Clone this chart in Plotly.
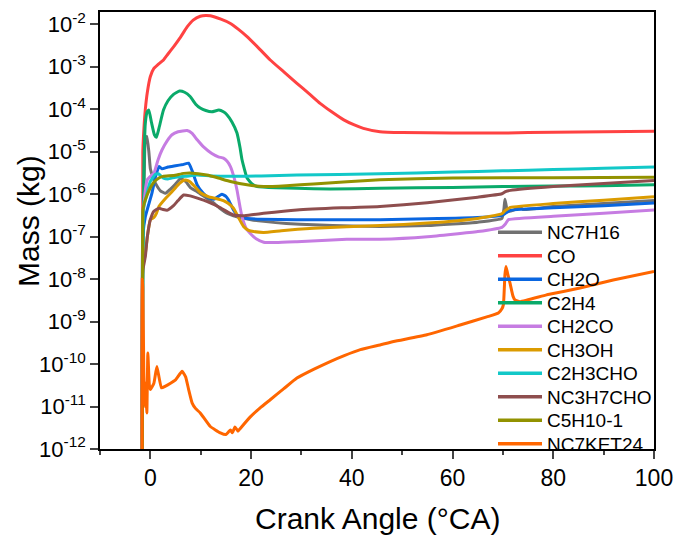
import numpy as np
import plotly.graph_objects as go

# ---- data (x in °CA, y stored as log10 of mass in kg) ----
names = ["NC7H16", "CO", "CH2O", "C2H4", "CH2CO", "CH3OH",
         "C2H3CHO", "NC3H7CHO", "C5H10-1", "NC7KET24"]
colors = ["#717171", "#FF4242", "#0A66E0", "#0AAA6A", "#C67CE2", "#DB9B00",
          "#12C8C8", "#8E4E4E", "#929200", "#FF6600"]

nc7h16_x = [-1.6, -1.5, -1.2, -1.0, -0.7, -0.3, 0.0, 0.5, 1.0, 2.0, 3.0, 4.0, 5.0, 6.0, 7.0, 8.0, 9.3, 11.0, 12.6, 14.0, 15.2, 16.5, 17.9, 20, 22.5, 27, 32.4, 40, 45.6, 55, 65, 69.8, 70.2, 70.4, 70.8, 71.2, 72, 73, 73.4, 74, 80, 90, 100]
nc7h16_lg = [-13, -7.0, -5.5, -4.68, -4.64, -5.0, -5.40, -5.6, -5.74, -5.92, -5.98, -5.88, -5.76, -5.63, -5.70, -5.85, -5.94, -6.08, -6.21, -6.35, -6.45, -6.51, -6.55, -6.60, -6.64, -6.69, -6.72, -6.75, -6.76, -6.74, -6.66, -6.57, -6.35, -6.12, -6.35, -6.40, -6.38, -6.32, -6.30, -6.36, -6.29, -6.22, -6.15]

co_x = [-1.6, -1.5, -1.2, -1.0, -0.6, 0.0, 0.7, 1.5, 2.6, 3.5, 4.6, 6.0, 7.3, 8.5, 9.9, 11.0, 11.9, 14.0, 15.9, 17.5, 19.2, 21.5, 23.8, 26.5, 29.1, 31.5, 33.7, 36.0, 38.4, 40.5, 42.3, 45.6, 50, 60, 70, 80, 90, 100]
co_lg = [-13, -5.0, -4.3, -4.0, -3.6, -3.23, -3.04, -2.95, -2.84, -2.70, -2.53, -2.30, -2.06, -1.90, -1.81, -1.79, -1.80, -1.88, -1.98, -2.12, -2.29, -2.56, -2.84, -3.12, -3.39, -3.63, -3.86, -4.06, -4.25, -4.37, -4.45, -4.53, -4.55, -4.56, -4.56, -4.54, -4.53, -4.52]

ch2o_x = [-1.6, -1.5, -1.0, 0.3, 1.0, 1.7, 2.3, 3.5, 5.0, 6.5, 7.6, 8.3, 9.3, 10.5, 11.5, 12.6, 13.5, 14.2, 15.0, 15.5, 16.4, 17.2, 18.5, 19.2, 22, 29.1, 45.6, 55, 65, 69.8, 70.5, 71.5, 80, 90, 100]
ch2o_lg = [-13, -7.0, -6.53, -5.98, -5.6, -5.35, -5.40, -5.36, -5.33, -5.30, -5.27, -5.45, -5.78, -5.98, -6.08, -6.12, -6.05, -6.00, -6.05, -6.13, -6.35, -6.49, -6.56, -6.57, -6.59, -6.60, -6.60, -6.58, -6.55, -6.50, -6.45, -6.38, -6.32, -6.27, -6.21]

c2h4_x = [-1.6, -1.5, -1.3, -1.0, -0.6, -0.3, 0.2, 0.8, 1.2, 1.7, 2.6, 3.5, 4.6, 5.8, 6.8, 7.9, 9.0, 9.9, 11.0, 12.2, 13.6, 14.5, 15.2, 16.2, 17.2, 17.8, 18.2, 19.2, 20.2, 21.2, 25, 29.1, 35.7, 45.6, 60, 70, 80, 90, 100]
c2h4_lg = [-13, -7.9, -5.5, -4.33, -4.05, -4.02, -4.3, -4.6, -4.66, -4.45, -4.02, -3.80, -3.65, -3.57, -3.60, -3.70, -3.88, -3.97, -4.03, -4.06, -4.02, -4.06, -4.13, -4.30, -4.56, -4.90, -5.19, -5.62, -5.76, -5.82, -5.85, -5.86, -5.88, -5.86, -5.84, -5.82, -5.81, -5.80, -5.78]

ch2co_x = [-1.6, -1.5, -1.3, -1.0, -0.6, 0.0, 0.7, 1.5, 2.3, 3.3, 4.3, 5.5, 7.3, 8.3, 9.3, 10.5, 12.2, 13.5, 14.5, 15.2, 15.9, 16.6, 17.2, 17.8, 18.2, 19.0, 19.8, 21, 22.5, 25, 29.1, 39, 45.6, 55, 65, 69.8, 70.5, 71.1, 80, 90, 100]
ch2co_lg = [-13, -6.5, -6.29, -5.9, -5.66, -5.58, -5.51, -5.2, -4.96, -4.75, -4.60, -4.53, -4.50, -4.57, -4.72, -4.88, -5.04, -5.12, -5.15, -5.22, -5.35, -5.6, -5.90, -6.3, -6.53, -6.8, -6.92, -7.05, -7.13, -7.14, -7.12, -7.06, -7.06, -7.00, -6.88, -6.78, -6.70, -6.60, -6.52, -6.45, -6.37]

ch3oh_x = [-1.6, -1.5, -1.0, -0.6, 0.0, 0.7, 1.2, 1.7, 3.0, 4.0, 5.5, 6.5, 7.2, 7.8, 8.5, 9.9, 11.5, 13.0, 14.5, 15.5, 16.5, 17.5, 18.5, 19.5, 20.5, 22.5, 26, 32.4, 45.6, 55, 65, 69.8, 70.5, 71.5, 80, 90, 100]
ch3oh_lg = [-13, -7.7, -7.4, -7.0, -6.6, -6.55, -6.45, -6.29, -6.10, -5.98, -5.78, -5.68, -5.67, -5.70, -5.78, -5.96, -6.06, -6.10, -6.15, -6.22, -6.33, -6.55, -6.76, -6.85, -6.88, -6.90, -6.86, -6.80, -6.74, -6.68, -6.57, -6.46, -6.38, -6.31, -6.22, -6.14, -6.06]

c2h3cho_x = [-1.6, -1.5, -1.3, -0.9, -0.5, 0.0, 1.0, 1.6, 2.6, 3.5, 5.0, 7.0, 9.3, 12, 15.9, 22, 29.1, 45.6, 60, 70, 80, 90, 100]
c2h3cho_lg = [-13, -6.6, -6.29, -6.1, -5.9, -5.70, -5.53, -5.52, -5.62, -5.64, -5.60, -5.58, -5.55, -5.57, -5.58, -5.57, -5.55, -5.52, -5.48, -5.45, -5.42, -5.39, -5.36]

nc3h7cho_x = [-1.6, -1.5, -1.0, -0.6, 0.0, 0.7, 1.7, 2.5, 3.3, 4.6, 5.5, 6.6, 7.9, 9.5, 11.2, 13.9, 15.5, 16.5, 18.5, 20.5, 22.5, 29.1, 38, 45.6, 55, 65, 69.8, 70.5, 71.5, 80, 90, 100]
nc3h7cho_lg = [-13, -7.8, -7.47, -7.0, -6.6, -6.40, -6.33, -6.36, -6.38, -6.27, -6.15, -6.02, -6.04, -6.10, -6.17, -6.32, -6.43, -6.49, -6.51, -6.48, -6.45, -6.37, -6.32, -6.29, -6.20, -6.07, -5.99, -5.94, -5.91, -5.82, -5.75, -5.68]

c5h10_x = [-1.6, -1.55, -1.5, -1.3, -1.0, 0.0, 0.7, 1.7, 2.5, 4.6, 6.6, 7.9, 9.5, 11.2, 13.5, 15.9, 19.2, 22.5, 27, 32.4, 45.6, 60, 80, 100]
c5h10_lg = [-13, -8.0, -6.4, -6.25, -6.13, -5.85, -5.72, -5.62, -5.58, -5.56, -5.51, -5.50, -5.52, -5.55, -5.62, -5.70, -5.78, -5.82, -5.80, -5.76, -5.66, -5.62, -5.61, -5.60]

nc7ket24_x = [-1.65, -1.6, -1.5, -1.3, -1.1, -0.9, -0.7, -0.5, -0.2, 0.0, 0.7, 1.3, 2.2, 3.0, 4.0, 5.0, 6.3, 7.0, 7.6, 8.3, 9.0, 9.9, 11.9, 13.9, 15.0, 15.5, 15.9, 16.3, 16.8, 17.4, 17.9, 19.8, 21.8, 23.8, 26.5, 29.1, 32.5, 35.7, 38.5, 41.7, 45.6, 48.3, 54.9, 61.5, 66.8, 69.1, 69.8, 70.1, 70.4, 70.6, 70.9, 71.4, 72.0, 72.4, 73.4, 78.7, 85.3, 91.9, 100]
nc7ket24_lg = [-13, -8.0, -8.19, -10.2, -11.0, -10.45, -11.15, -9.74, -10.5, -10.6, -10.45, -10.06, -10.56, -10.52, -10.45, -10.37, -10.17, -10.3, -10.6, -10.92, -11.05, -11.15, -11.47, -11.62, -11.66, -11.60, -11.55, -11.62, -11.48, -11.58, -11.51, -11.25, -11.03, -10.84, -10.58, -10.33, -10.12, -9.94, -9.80, -9.66, -9.55, -9.47, -9.31, -9.08, -8.89, -8.80, -8.70, -8.60, -7.90, -7.70, -7.85, -8.09, -8.40, -8.49, -8.53, -8.37, -8.21, -8.02, -7.82]

series_x = [nc7h16_x, co_x, ch2o_x, c2h4_x, ch2co_x, ch3oh_x, c2h3cho_x, nc3h7cho_x, c5h10_x, nc7ket24_x]
series_lg = [nc7h16_lg, co_lg, ch2o_lg, c2h4_lg, ch2co_lg, ch3oh_lg, c2h3cho_lg, nc3h7cho_lg, c5h10_lg, nc7ket24_lg]

ytick_exp = [-2, -3, -4, -5, -6, -7, -8, -9, -10, -11, -12]
xtick_vals = [0, 20, 40, 60, 80, 100]

FONT = "Arial, Liberation Sans, sans-serif"

# plot-area geometry (pixels) used to place the hand-drawn legend
W, H = 678, 536
ML, MR, MT, MB = 100, 24, 12, 87
PW, PH = W - ML - MR, H - MT - MB

def px_x(p):
    return (p - ML) / PW

def px_y(p):
    return (H - MB - p) / PH

fig = go.Figure()
for name, col, xs, lg in zip(names, colors, series_x, series_lg):
    fig.add_trace(go.Scatter(x=xs, y=np.power(10.0, np.array(lg)), mode="lines", name=name,
                             showlegend=False,
                             line=dict(color=col, width=3, shape="spline", smoothing=0.4)))

# legend (line sample + label) drawn inside the plot area
leg_top, leg_step = 232.3, 23.5
for i, (name, col) in enumerate(zip(names, colors)):
    yc = leg_top + leg_step * i
    fig.add_shape(type="line", xref="paper", yref="paper",
                  x0=px_x(498), x1=px_x(542), y0=px_y(yc), y1=px_y(yc),
                  line=dict(color=col, width=3.5))
    fig.add_annotation(text=name, xref="paper", yref="paper", x=px_x(545), y=px_y(yc + 0.5),
                       xanchor="left", yanchor="middle", showarrow=False,
                       font=dict(size=19, family=FONT, color="black"))

# axis titles
fig.add_annotation(text="Mass (kg)", xref="paper", yref="paper", x=px_x(28.5), y=px_y(221.5),
                   xanchor="center", yanchor="middle", textangle=-90, showarrow=False,
                   font=dict(size=30, family=FONT, color="black"))
fig.add_annotation(text="Crank Angle (°CA)", xref="paper", yref="paper", x=px_x(377.5), y=px_y(518),
                   xanchor="center", yanchor="middle", showarrow=False,
                   font=dict(size=30, family=FONT, color="black"))

fig.update_layout(
    width=W, height=H,
    margin=dict(l=ML, r=MR, t=MT, b=MB, autoexpand=False),
    paper_bgcolor="white", plot_bgcolor="white",
    font=dict(family=FONT, color="black"),
    showlegend=False,
)
fig.update_xaxes(
    range=[-10, 100], tickvals=xtick_vals, ticks="outside", ticklen=8, tickwidth=1.5,
    minor=dict(dtick=10, tick0=0, ticks="outside", ticklen=4, tickwidth=1.5, showgrid=False),
    showline=True, linecolor="black", linewidth=1.5, mirror=True, showgrid=False, zeroline=False,
    tickfont=dict(size=23, family=FONT), automargin=False,
)
fig.update_yaxes(
    type="log", range=[-12, -1.71],
    tickvals=[10.0 ** e for e in ytick_exp],
    ticktext=["10<sup>%d</sup>" % e for e in ytick_exp],
    ticks="outside", ticklen=8, tickwidth=1.5,
    showline=True, linecolor="black", linewidth=1.5, mirror=True, showgrid=False, zeroline=False,
    tickfont=dict(size=22, family=FONT), automargin=False,
)

fig.write_html("out.html")
